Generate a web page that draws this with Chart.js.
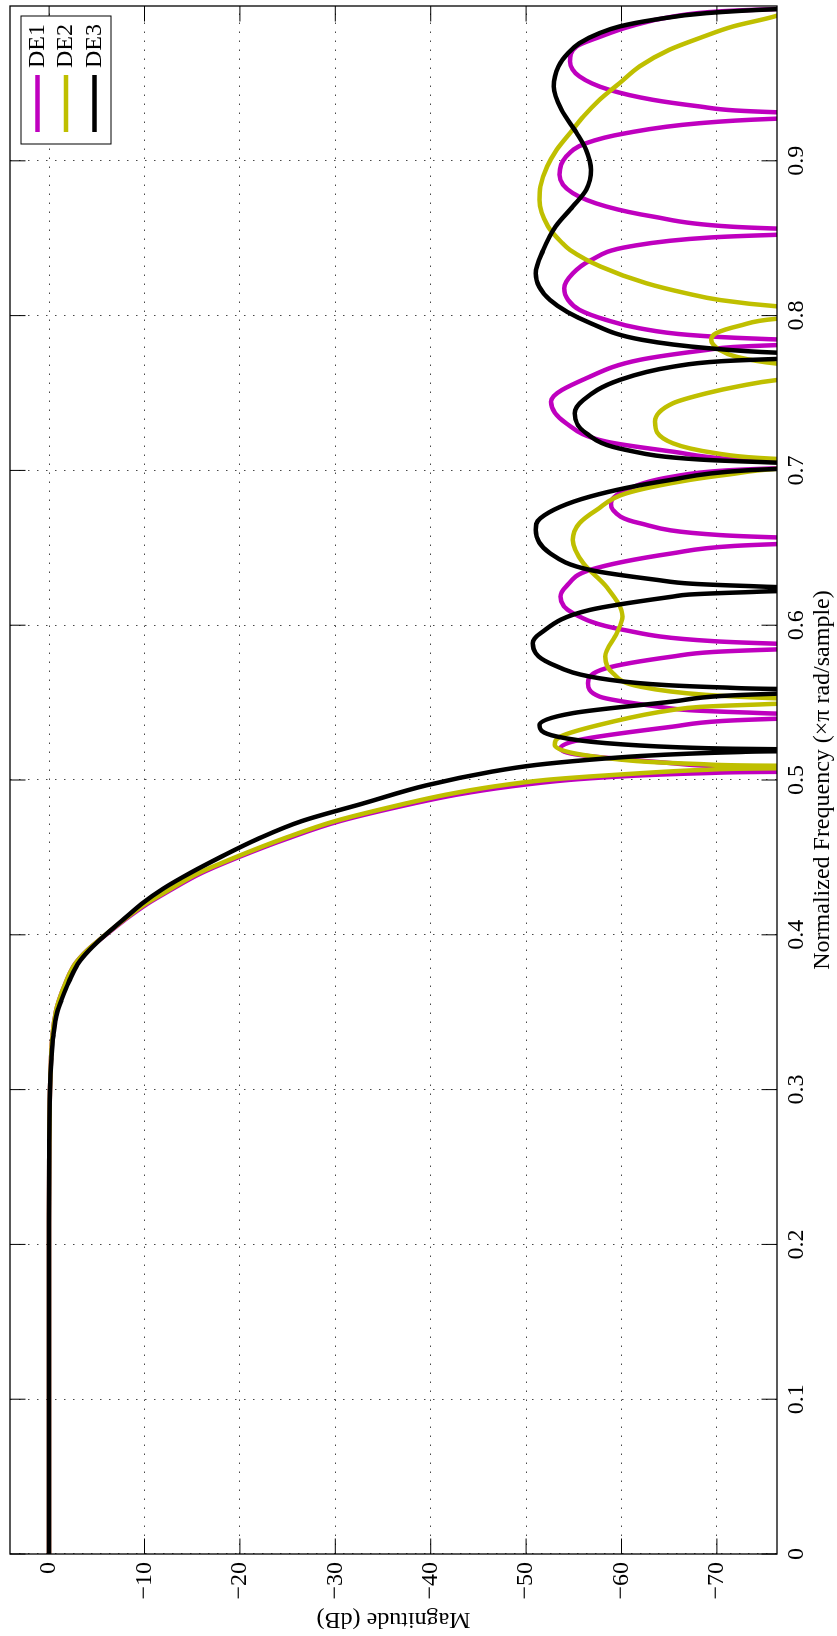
<!DOCTYPE html>
<html><head><meta charset="utf-8">
<script src="https://cdn.jsdelivr.net/npm/chart.js@4.4.1/dist/chart.umd.min.js"></script>
<style>
html,body{margin:0;padding:0;background:#fff;}
#wrap{position:relative;width:837px;height:1636px;overflow:hidden;background:#fff;}
#c{position:absolute;left:0;top:0;width:1636px;height:837px;transform-origin:0 0;transform:translate(0,1636px) rotate(-90deg);}
</style></head>
<body><div id="wrap"><canvas id="c" width="1636" height="837"></canvas></div>
<script>
// ---- data: [normalized frequency, magnitude dB] ----
const seriesNames = ['DE1', 'DE2', 'DE3'];
const seriesColors = ['#bf00bf', '#bfbf00', '#000000'];
const freqTicks = [0, 0.1, 0.2, 0.3, 0.4, 0.5, 0.6, 0.7, 0.8, 0.9];
const magTicks = [-70, -60, -50, -40, -30, -20, -10, 0];
const freqRange = [0, 1];
const magRange = [-76.3, 4.1];

const DE1 = [[0,0],[0.1,0],[0.2,0],[0.26,-0.01],[0.3,-0.08],[0.32,-0.2],[0.335,-0.35],[0.35,-0.7],[0.358,-1.05],[0.37,-1.8],[0.381,-2.7],[0.39,-4.0],[0.4,-5.95],[0.41,-8.0],[0.42,-10.3],[0.427,-12.2],[0.44,-16.0],[0.45,-19.8],[0.462,-24.9],[0.4735,-30.5],[0.485,-38.3],[0.4905,-42.7],[0.4958,-48.3],[0.5,-54.4],[0.502,-59.0],[0.5035,-64.0],[0.5045,-69.0],[0.5052,-74.6],[0.506,-100],[0.507,-79.9],[0.508,-73.9],[0.5095,-68.0],[0.5108,-65.4],[0.5162,-55.6],[0.5205,-53.6],[0.5259,-55.6],[0.5345,-65.4],[0.5381,-70.5],[0.5396,-76.4],[0.5406,-82.4],[0.5416,-100],[0.5426,-79.1],[0.5436,-73.1],[0.5451,-67.2],[0.5475,-63.7],[0.5539,-57.7],[0.5625,-56.5],[0.5722,-58.4],[0.5798,-65.4],[0.5827,-69.6],[0.5842,-75.5],[0.5852,-81.5],[0.5862,-100],[0.5872,-81.5],[0.5882,-75.5],[0.5897,-69.6],[0.597,-60.2],[0.6078,-54.9],[0.6185,-53.6],[0.625,-54.2],[0.6357,-56.7],[0.6465,-65.4],[0.6512,-71.8],[0.6527,-77.7],[0.6537,-83.7],[0.6547,-100],[0.6557,-82.3],[0.6567,-76.3],[0.6582,-70.4],[0.6659,-61.9],[0.6745,-59.1],[0.6788,-58.9],[0.6874,-60.5],[0.696,-65.4],[0.7,-71.0],[0.7015,-76.9],[0.7025,-82.9],[0.7035,-100],[0.7045,-84.1],[0.7055,-78.1],[0.707,-72.2],[0.7121,-65.4],[0.7186,-58.4],[0.7304,-54.2],[0.7444,-52.6],[0.7606,-56.7],[0.7714,-61.9],[0.7778,-68.9],[0.7797,-71.7],[0.7812,-77.5],[0.7822,-83.5],[0.7832,-100],[0.7842,-79.8],[0.7852,-73.8],[0.7875,-67.1],[0.7918,-61.9],[0.7972,-58.4],[0.8037,-55.6],[0.8101,-54.4],[0.8177,-54.0],[0.8273,-54.9],[0.8355,-56.7],[0.8447,-60.9],[0.8505,-69.4],[0.852,-75.3],[0.853,-81.3],[0.854,-100],[0.855,-83.3],[0.856,-77.3],[0.8575,-71.4],[0.864,-63.3],[0.8705,-58.4],[0.8791,-54.9],[0.891,-53.5],[0.9028,-54.2],[0.9114,-56.3],[0.9179,-60.5],[0.9243,-68.2],[0.927,-75.4],[0.928,-81.4],[0.929,-100],[0.93,-83.9],[0.931,-77.9],[0.9325,-72.0],[0.9351,-68.2],[0.9394,-63.3],[0.9459,-58.7],[0.9545,-55.6],[0.9642,-54.6],[0.9739,-55.3],[0.98,-57.7],[0.9868,-60.9],[0.9932,-65.4],[0.9965,-70.2],[0.998,-76.0],[0.999,-82.0],[1.0,-100]];

const DE2 = [[0,0],[0.1,0],[0.2,0],[0.26,-0.01],[0.3,-0.08],[0.32,-0.2],[0.335,-0.35],[0.35,-0.7],[0.358,-1.05],[0.37,-1.8],[0.381,-2.7],[0.39,-4.0],[0.4,-5.9],[0.41,-7.9],[0.42,-10.1],[0.427,-12.0],[0.44,-15.7],[0.45,-19.5],[0.462,-24.5],[0.4735,-30.0],[0.485,-37.5],[0.4905,-41.6],[0.4958,-46.6],[0.5,-52.0],[0.5022,-56.5],[0.504,-61.0],[0.5055,-65.0],[0.5065,-68.5],[0.5075,-75.2],[0.5083,-100],[0.5093,-74.2],[0.5103,-68.2],[0.5118,-62.6],[0.513,-60.2],[0.5173,-55.0],[0.5227,-53.0],[0.5281,-53.6],[0.5367,-58.4],[0.5453,-65.4],[0.5472,-68.2],[0.5487,-74.0],[0.5497,-80.0],[0.5507,-100],[0.5517,-82.6],[0.5527,-76.6],[0.555,-68.9],[0.5604,-61.9],[0.569,-59.1],[0.5798,-58.3],[0.5948,-59.5],[0.6056,-60.1],[0.625,-58.4],[0.64,-56.0],[0.6551,-54.9],[0.6659,-55.6],[0.6745,-57.4],[0.6852,-60.5],[0.6938,-67.1],[0.6975,-71.4],[0.7011,-76.5],[0.7026,-82.4],[0.7046,-100],[0.7066,-80.1],[0.7081,-74.3],[0.7111,-69.9],[0.7175,-65.4],[0.7315,-63.5],[0.7434,-65.4],[0.7498,-68.9],[0.7545,-72.4],[0.7584,-76.3],[0.761,-81.4],[0.764,-100],[0.7665,-82.0],[0.769,-76.3],[0.7735,-72.0],[0.7778,-70.3],[0.7843,-69.4],[0.7886,-69.9],[0.7935,-72.4],[0.798,-76.3],[0.8,-82.0],[0.802,-100],[0.804,-82.0],[0.806,-76.3],[0.8101,-70.3],[0.8144,-66.8],[0.8209,-62.6],[0.8317,-57.8],[0.8424,-54.6],[0.8468,-53.8],[0.8576,-52.3],[0.8748,-51.4],[0.8834,-51.5],[0.8963,-52.2],[0.9071,-53.2],[0.9179,-54.6],[0.9286,-56.0],[0.9394,-57.7],[0.9502,-59.8],[0.961,-61.9],[0.9717,-65.0],[0.98,-68.5],[0.9868,-71.7],[0.9932,-76.0],[1.0,-79.0]];

const DE3 = [[0,0],[0.1,0],[0.2,0],[0.26,-0.02],[0.3,-0.1],[0.32,-0.25],[0.335,-0.45],[0.35,-0.85],[0.358,-1.3],[0.37,-2.1],[0.381,-3.0],[0.39,-4.2],[0.4,-5.9],[0.41,-7.8],[0.42,-9.7],[0.43,-12.0],[0.44,-14.8],[0.45,-17.9],[0.462,-21.9],[0.4735,-26.5],[0.485,-33.0],[0.4965,-39.5],[0.5055,-46.5],[0.5097,-51.0],[0.513,-56.5],[0.5155,-62.0],[0.517,-67.0],[0.518,-72.0],[0.5186,-77.0],[0.5192,-100],[0.5199,-76.0],[0.5202,-71.7],[0.5212,-65.7],[0.5238,-58.4],[0.5281,-53.2],[0.5356,-51.4],[0.5432,-54.9],[0.5507,-65.4],[0.5543,-70.5],[0.5558,-76.4],[0.5568,-82.4],[0.5578,-100],[0.5588,-76.6],[0.5598,-70.6],[0.5613,-64.7],[0.5647,-58.8],[0.5754,-52.5],[0.5884,-50.7],[0.5948,-51.5],[0.6099,-56.7],[0.6185,-65.4],[0.6198,-67.1],[0.6213,-73.0],[0.6223,-79.0],[0.6233,-100],[0.6243,-79.3],[0.6253,-73.3],[0.6268,-67.4],[0.6293,-63.7],[0.6357,-56.7],[0.6465,-52.5],[0.6616,-51.0],[0.6691,-51.5],[0.6831,-56.7],[0.6938,-65.1],[0.7,-73.0],[0.7015,-78.8],[0.7025,-84.8],[0.7035,-100],[0.7045,-80.2],[0.7055,-74.2],[0.707,-68.3],[0.7132,-60.5],[0.724,-56.3],[0.7369,-55.1],[0.7455,-56.0],[0.7584,-59.8],[0.767,-65.4],[0.7705,-70.4],[0.772,-76.3],[0.773,-82.3],[0.774,-100],[0.775,-82.5],[0.776,-76.5],[0.7789,-69.2],[0.7843,-62.2],[0.795,-56.8],[0.8101,-52.5],[0.8273,-51.0],[0.8424,-51.8],[0.8576,-53.1],[0.8705,-54.9],[0.8813,-56.3],[0.8942,-56.8],[0.907,-56.3],[0.918,-55.3],[0.933,-53.7],[0.948,-52.9],[0.961,-53.4],[0.9696,-54.4],[0.976,-55.6],[0.9825,-57.7],[0.9868,-59.8],[0.991,-63.3],[0.9954,-68.9],[0.998,-76.4],[0.999,-82.4],[1.0,-100]];

const seriesData = [DE1, DE2, DE3];
const FONT = "'Liberation Serif', 'Times New Roman', Times, serif";
const FS = 24;

const matlabFrame = {
  id: 'matlabFrame',
  afterDatasetsDraw(chart) {
    const {ctx, chartArea: a, scales} = chart;
    const xs = scales.x, ys = scales.y;
    ctx.save();
    const L = 15.5;
    ctx.strokeStyle = '#000';
    ctx.lineWidth = 1;
    ctx.beginPath();
    freqTicks.forEach(v => {
      const px = xs.getPixelForValue(v);
      ctx.moveTo(px, a.bottom); ctx.lineTo(px, a.bottom - L);
      ctx.moveTo(px, a.top); ctx.lineTo(px, a.top + L);
    });
    magTicks.forEach(v => {
      const py = ys.getPixelForValue(v);
      ctx.moveTo(a.left, py); ctx.lineTo(a.left + L, py);
      ctx.moveTo(a.right, py); ctx.lineTo(a.right - L, py);
    });
    ctx.stroke();
    ctx.lineWidth = 1.3;
    ctx.strokeRect(a.left, a.top, a.right - a.left, a.bottom - a.top);
    // legend box (top-right, inside the axes)
    const bw = 128, bh = 90;
    const bx = a.right - 10 - bw, by = a.top + 11;
    ctx.fillStyle = '#fff';
    ctx.fillRect(bx, by, bw, bh);
    ctx.lineWidth = 1;
    ctx.strokeRect(bx, by, bw, bh);
    ctx.font = FS + 'px ' + FONT;
    ctx.textBaseline = 'middle';
    ctx.textAlign = 'left';
    seriesNames.forEach((name, i) => {
      const yy = by + 16.5 + i * 28.5;
      ctx.strokeStyle = seriesColors[i];
      ctx.lineWidth = 4.5;
      ctx.beginPath();
      ctx.moveTo(bx + 12, yy); ctx.lineTo(bx + 69, yy);
      ctx.stroke();
      ctx.fillStyle = '#000';
      ctx.fillText(name, bx + 76, yy);
    });
    ctx.restore();
  }
};

const fmtMag = v => (v === 0 ? '0' : (v < 0 ? '\u2212' + Math.abs(v) : String(v)));
const fmtFreq = v => (v === 0 ? '0' : v.toFixed(1));

new Chart(document.getElementById('c'), {
  type: 'line',
  data: {
    datasets: seriesData.map((pts, i) => ({
      label: seriesNames[i],
      data: pts.map(p => ({x: p[0], y: p[1]})),
      borderColor: seriesColors[i],
      backgroundColor: seriesColors[i],
      borderWidth: 4.5,
      pointRadius: 0,
      fill: false,
      cubicInterpolationMode: 'monotone',
      clip: 0,
      order: seriesNames.length - i
    }))
  },
  options: {
    responsive: false,
    animation: false,
    devicePixelRatio: 1,
    layout: {padding: {left: 0, right: 6, top: 10, bottom: 0}},
    plugins: {legend: {display: false}, tooltip: {enabled: false}},
    scales: {
      x: {
        type: 'linear', position: 'bottom',
        min: freqRange[0], max: freqRange[1],
        afterBuildTicks: s => { s.ticks = freqTicks.map(v => ({value: v})); },
        afterFit: s => { s.height = 60; s.paddingLeft = 0; s.paddingRight = 0; },
        ticks: {autoSkip: false, maxRotation: 0, minRotation: 0, padding: 5, color: '#000',
                font: {family: FONT, size: FS}, callback: v => fmtFreq(v)},
        grid: {display: true, drawTicks: false, color: 'rgba(40,40,40,0.85)', lineWidth: 1,
               borderDash: [1.5, 7.5]},
        border: {display: false, dash: [1.5, 7.5]},
        title: {display: true, text: 'Normalized Frequency (\u00d7\u03c0 rad/sample)', color: '#000',
                font: {family: FONT, size: FS}, padding: {top: 0, bottom: 0}}
      },
      y: {
        type: 'linear', position: 'left',
        min: magRange[0], max: magRange[1],
        afterBuildTicks: s => { s.ticks = magTicks.map(v => ({value: v})); },
        afterFit: s => { s.width = 82; s.paddingTop = 0; s.paddingBottom = 0; },
        ticks: {autoSkip: false, padding: 8, color: '#000',
                font: {family: FONT, size: FS}, callback: v => fmtMag(v)},
        grid: {display: true, drawTicks: false, color: 'rgba(40,40,40,0.85)', lineWidth: 1,
               borderDash: [1.5, 7.5]},
        border: {display: false, dash: [1.5, 7.5]},
        title: {display: true, text: 'Magnitude (dB)', color: '#000',
                font: {family: FONT, size: FS}, padding: {top: 2, bottom: 0}}
      }
    }
  },
  plugins: [matlabFrame]
});
</script>
</body></html>
